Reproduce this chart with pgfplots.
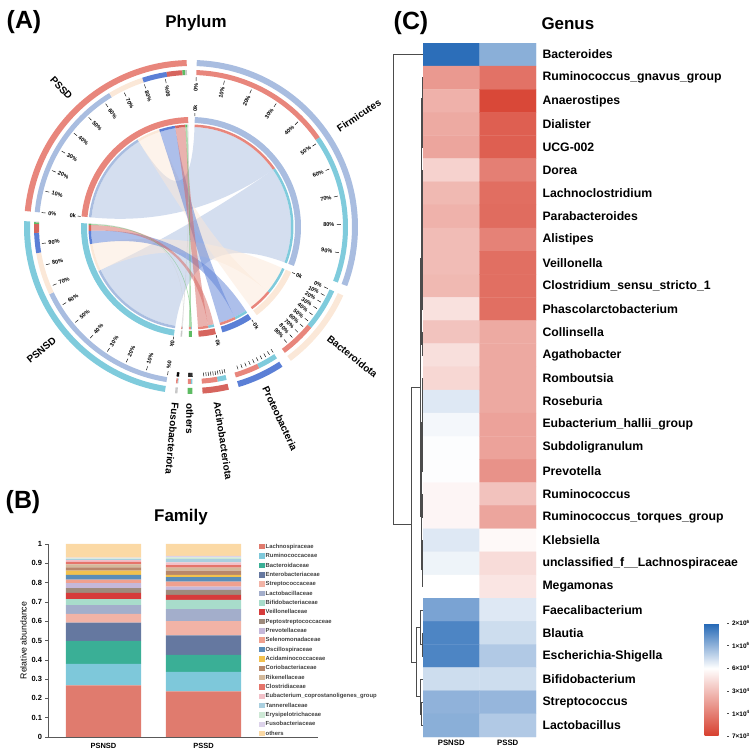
\documentclass[border=0pt]{standalone}
\usepackage{fontspec}
\setmainfont{Liberation Sans}
\usepackage{pgfplots}
\pgfplotsset{compat=1.18}

% chord colours
\definecolor{cPSSD}{RGB}{232,134,124}
\definecolor{cPSNSD}{RGB}{127,203,220}
\definecolor{cFirm}{RGB}{169,189,224}
\definecolor{cBact}{RGB}{251,232,216}
\definecolor{cProt}{RGB}{91,127,214}
\definecolor{cAct}{RGB}{214,101,94}
\definecolor{cOth}{RGB}{93,187,99}
\definecolor{cFuso}{RGB}{200,200,200}
% family colours
\definecolor{f01}{RGB}{224,123,110}
\definecolor{f02}{RGB}{126,200,218}
\definecolor{f03}{RGB}{58,175,150}
\definecolor{f04}{RGB}{101,120,160}
\definecolor{f05}{RGB}{242,179,166}
\definecolor{f06}{RGB}{163,174,203}
\definecolor{f07}{RGB}{168,220,203}
\definecolor{f08}{RGB}{214,59,59}
\definecolor{f09}{RGB}{158,139,125}
\definecolor{f10}{RGB}{197,184,218}
\definecolor{f11}{RGB}{240,160,142}
\definecolor{f12}{RGB}{90,141,184}
\definecolor{f13}{RGB}{242,193,78}
\definecolor{f14}{RGB}{184,135,106}
\definecolor{f15}{RGB}{212,185,154}
\definecolor{f16}{RGB}{229,116,106}
\definecolor{f17}{RGB}{242,192,200}
\definecolor{f18}{RGB}{169,207,223}
\definecolor{f19}{RGB}{205,232,213}
\definecolor{f20}{RGB}{220,210,234}
\definecolor{f21}{RGB}{251,217,165}

\pgfplotsset{colormap={hm}{rgb255(0cm)=(215,63,46) rgb255(3cm)=(255,255,255) rgb255(5cm)=(33,102,181)},
  dendro/.style={black!70, line width=0.45pt, mark=none}}

\newcommand\ttfont{\bfseries\fontsize{25}{28}\selectfont}
\newcommand\hdfont{\bfseries\fontsize{17}{19}\selectfont}
\newcommand\tkfont{\bfseries\fontsize{5.6}{6.5}\selectfont}
\newcommand\nmfont{\bfseries\fontsize{10}{11}\selectfont}

% phylum composition of each group (percent): Firmicutes, Bacteroidota,
% Proteobacteria, Actinobacteriota, others, Fusobacteriota
\def\sF{64}\def\sB{16}\def\sP{11}\def\sA{7}\def\sO{1.3}\def\sU{0.7}  % PSSD
\def\nF{67}\def\nB{19}\def\nP{9}\def\nA{4}\def\nO{0.7}\def\nU{0.3}   % PSNSD
\def\U{0.83}\def\Gp{3.5}  % degrees per unit, gap

\pgfmathsetmacro\FzA{88}
\pgfmathsetmacro\FzB{\FzA-\sF*\U}
\pgfmathsetmacro\FzC{\FzB-\nF*\U}
\pgfmathsetmacro\BzA{\FzC-\Gp}
\pgfmathsetmacro\BzB{\BzA-\nB*\U}
\pgfmathsetmacro\BzC{\BzB-\sB*\U}
\pgfmathsetmacro\PzA{\BzC-\Gp}
\pgfmathsetmacro\PzB{\PzA-\nP*\U}
\pgfmathsetmacro\PzC{\PzB-\sP*\U}
\pgfmathsetmacro\AzA{\PzC-\Gp}
\pgfmathsetmacro\AzB{\AzA-\nA*\U}
\pgfmathsetmacro\AzC{\AzB-\sA*\U}
\pgfmathsetmacro\OzA{\AzC-\Gp}
\pgfmathsetmacro\OzB{\OzA-\nO*\U}
\pgfmathsetmacro\OzC{\OzB-\sO*\U}
\pgfmathsetmacro\UzA{\OzC-\Gp}
\pgfmathsetmacro\UzB{\UzA-\nU*\U}
\pgfmathsetmacro\UzC{\UzB-\sU*\U}
\pgfmathsetmacro\NzA{\UzC-\Gp}
\pgfmathsetmacro\NzB{\NzA-\nF*\U}
\pgfmathsetmacro\NzC{\NzB-\nB*\U}
\pgfmathsetmacro\NzD{\NzC-\nP*\U}
\pgfmathsetmacro\NzE{\NzD-\nA*\U}
\pgfmathsetmacro\NzF{\NzE-\nO*\U}
\pgfmathsetmacro\NzG{\NzF-\nU*\U}
\pgfmathsetmacro\SzA{\NzG-\Gp}
\pgfmathsetmacro\SzB{\SzA-\sF*\U}
\pgfmathsetmacro\SzC{\SzB-\sB*\U}
\pgfmathsetmacro\SzD{\SzC-\sP*\U}
\pgfmathsetmacro\SzE{\SzD-\sA*\U}
\pgfmathsetmacro\SzF{\SzE-\sO*\U}
\pgfmathsetmacro\SzG{\SzF-\sU*\U}

\newcommand{\ringseg}[5]{\fill[#5] (#3:#1) arc[start angle=#3, end angle=#4, radius=#1] -- (#4:#2) arc[start angle=#4, end angle=#3, radius=#2] -- cycle;}
\newcommand{\ribbon}[5]{\fill[#5, fill opacity=0.5] (#1:100bp) arc[start angle=#1, end angle=#2, radius=100bp] .. controls (#2:33bp) and (#3:33bp) .. (#3:100bp) arc[start angle=#3, end angle=#4, radius=100bp] .. controls (#4:33bp) and (#1:33bp) .. (#1:100bp) -- cycle;}
\newcommand{\labin}[4]{\pgfmathsetmacro\ca{cos(#1)}%
  \ifdim\ca pt<-0.2pt \node[font=#4, rotate=#1+180, anchor=west, inner sep=0.4pt] at (#1:#2bp) {#3};%
  \else \node[font=#4, rotate=#1, anchor=east, inner sep=0.4pt] at (#1:#2bp) {#3};\fi}
\newcommand{\labout}[4]{\pgfmathsetmacro\ca{cos(#1)}%
  \ifdim\ca pt<-0.2pt \node[font=#4, rotate=#1+180, anchor=east, inner sep=0.4pt] at (#1:#2bp) {#3};%
  \else \node[font=#4, rotate=#1, anchor=west, inner sep=0.4pt] at (#1:#2bp) {#3};\fi}
\newcommand{\pticks}[3]{\foreach \k in {0,...,9}{%
    \pgfmathsetmacro\ta{#1+(#2-#1)*\k/10}%
    \pgfmathtruncatemacro\pc{10*\k}%
    \draw[line width=0.45pt] (\ta:146bp) -- (\ta:150bp);%
    \ifnum#3=1 \labin{\ta}{144}{\pc\%}{\tkfont}\fi}}
\newcommand{\zk}[1]{\draw[line width=0.45pt] (#1:111bp) -- (#1:114bp); \labout{#1}{115}{0k}{\tkfont}}
\newcommand{\sname}[3]{\pgfmathsetmacro\mid{(#1+#2)/2}\labout{\mid}{176}{#3}{\nmfont}}
\newcommand{\compo}[2]{%
  \ringseg{#1}{#2}{\SzA}{\SzB}{cFirm}\ringseg{#1}{#2}{\SzB}{\SzC}{cBact}\ringseg{#1}{#2}{\SzC}{\SzD}{cProt}%
  \ringseg{#1}{#2}{\SzD}{\SzE}{cAct}\ringseg{#1}{#2}{\SzE}{\SzF}{cOth}\ringseg{#1}{#2}{\SzF}{\SzG}{cFuso}%
  \ringseg{#1}{#2}{\NzA}{\NzB}{cFirm}\ringseg{#1}{#2}{\NzB}{\NzC}{cBact}\ringseg{#1}{#2}{\NzC}{\NzD}{cProt}%
  \ringseg{#1}{#2}{\NzD}{\NzE}{cAct}\ringseg{#1}{#2}{\NzE}{\NzF}{cOth}\ringseg{#1}{#2}{\NzF}{\NzG}{cFuso}%
  \ringseg{#1}{#2}{\FzA}{\FzB}{cPSSD}\ringseg{#1}{#2}{\FzB}{\FzC}{cPSNSD}%
  \ringseg{#1}{#2}{\BzA}{\BzB}{cPSNSD}\ringseg{#1}{#2}{\BzB}{\BzC}{cPSSD}%
  \ringseg{#1}{#2}{\PzA}{\PzB}{cPSNSD}\ringseg{#1}{#2}{\PzB}{\PzC}{cPSSD}%
  \ringseg{#1}{#2}{\AzA}{\AzB}{cPSNSD}\ringseg{#1}{#2}{\AzB}{\AzC}{cPSSD}%
  \ringseg{#1}{#2}{\OzA}{\OzB}{cPSNSD}\ringseg{#1}{#2}{\OzB}{\OzC}{cPSSD}%
  \ringseg{#1}{#2}{\UzA}{\UzB}{cPSNSD}\ringseg{#1}{#2}{\UzB}{\UzC}{cPSSD}}
\newcommand{\own}[2]{%
  \ringseg{#1}{#2}{\SzA}{\SzG}{cPSSD}\ringseg{#1}{#2}{\NzA}{\NzG}{cPSNSD}%
  \ringseg{#1}{#2}{\FzA}{\FzC}{cFirm}\ringseg{#1}{#2}{\BzA}{\BzC}{cBact}%
  \ringseg{#1}{#2}{\PzA}{\PzC}{cProt}\ringseg{#1}{#2}{\AzA}{\AzC}{cAct}%
  \ringseg{#1}{#2}{\OzA}{\OzC}{cOth}\ringseg{#1}{#2}{\UzA}{\UzC}{cFuso}}

\begin{document}
\begin{tikzpicture}
\path[use as bounding box] (0bp,0bp) rectangle (755bp,753bp);

\node[font=\ttfont] at (24bp,731bp) {(A)};
\node[font=\hdfont] at (196bp,730bp) {Phylum};
\node[font=\ttfont] at (23bp,251bp) {(B)};
\node[font=\hdfont] at (181bp,236bp) {Family};
\node[font=\ttfont] at (411bp,730bp) {(C)};
\node[font=\hdfont, anchor=west] at (538bp,729bp) {Genus};

% ---------------- (A) chord diagram
\begin{axis}[at={(191bp,526bp)}, anchor=center, width=400bp, height=400bp,
  scale only axis, hide axis, xmin=-200, xmax=200, ymin=-200, ymax=200, clip=false]
\pgfplotsextra{%
\begin{scope}[shift={(axis cs:0,0)}]
  \ribbon{\SzA}{\SzB}{\FzA}{\FzB}{cFirm}
  \ribbon{\NzA}{\NzB}{\FzB}{\FzC}{cFirm}
  \ribbon{\SzB}{\SzC}{\BzB}{\BzC}{cBact}
  \ribbon{\NzB}{\NzC}{\BzA}{\BzB}{cBact}
  \ribbon{\SzC}{\SzD}{\PzB}{\PzC}{cProt}
  \ribbon{\NzC}{\NzD}{\PzA}{\PzB}{cProt}
  \ribbon{\SzD}{\SzE}{\AzB}{\AzC}{cAct}
  \ribbon{\NzD}{\NzE}{\AzA}{\AzB}{cAct}
  \ribbon{\SzE}{\SzF}{\OzB}{\OzC}{cOth}
  \ribbon{\NzE}{\NzF}{\OzA}{\OzB}{cOth}
  \ribbon{\SzF}{\SzG}{\UzB}{\UzC}{cFuso}
  \ribbon{\NzF}{\NzG}{\UzA}{\UzB}{cFuso}
  \own{161bp}{167bp}
  \compo{152bp}{157bp}
  \own{104bp}{110bp}
  \compo{100bp}{102.5bp}
  \pticks{\SzA}{\SzG}{1}
  \pticks{\NzA}{\NzG}{1}
  \pticks{\FzA}{\FzC}{1}
  \pticks{\BzA}{\BzC}{1}
  \pticks{\PzA}{\PzC}{0}
  \pticks{\AzA}{\AzC}{0}
  \pticks{\OzA}{\OzC}{0}
  \pticks{\UzA}{\UzC}{0}
  \zk{\SzA}\zk{\NzA}\zk{\FzA}\zk{\BzA}\zk{\PzA}\zk{\AzA}
  \sname{\SzA}{\SzG}{PSSD}
  \sname{\NzA}{\NzG}{PSNSD}
  \sname{\FzA}{\FzC}{Firmicutes}
  \sname{\BzA}{\BzC}{Bacteroidota}
  \sname{\PzA}{\PzC}{Proteobacteria}
  \sname{\AzA}{\AzC}{Actinobacteriota}
  \sname{\OzA}{\OzC}{others}
  \sname{\UzA}{\UzC}{Fusobacteriota}
\end{scope}}
\end{axis}

% ---------------- (B) family stacked bars
\begin{axis}[at={(48bp,16bp)}, anchor=south west, width=270bp, height=193bp, scale only axis,
  ybar stacked, bar width=75bp, xmin=-0.555, xmax=2.145, ymin=0, ymax=1, enlargelimits=false,
  axis x line*=bottom, axis y line*=left, axis line style={black!65, line width=0.6pt},
  xtick={0,1}, xticklabels={PSNSD,PSSD}, xtick style={draw=none},
  ytick={0,0.1,0.2,0.3,0.4,0.5,0.6,0.7,0.8,0.9,1},
  ytick style={black!65, line width=0.6pt}, tick align=outside, major tick length=2.5bp,
  tick label style={font=\bfseries\fontsize{7.5}{8}\selectfont},
  /pgf/number format/assume math mode=true,
  yticklabel style={/pgf/number format/fixed, /pgf/number format/precision=1},
  ylabel={Relative abundance}, ylabel style={font=\fontsize{8.8}{9}\selectfont, yshift=-2bp},
  legend cell align=left,
  legend style={at={(0.781,1.005)}, anchor=north west, draw=none, fill=none,
    font=\bfseries\fontsize{5.9}{6.5}\selectfont, text=black!75, row sep=2.35bp, inner sep=0pt,
    nodes={inner sep=0.6bp, text height=4.5bp, text depth=1.3bp},
    /tikz/every odd column/.append style={column sep=0.5bp}},
  legend image code/.code={\fill[#1] (0bp,-2.75bp) rectangle (5.5bp,2.75bp);},
]
\addplot[fill=f01, draw=none] coordinates {(0,0.267) (1,0.236)};
\addplot[fill=f02, draw=none] coordinates {(0,0.112) (1,0.102)};
\addplot[fill=f03, draw=none] coordinates {(0,0.119) (1,0.088)};
\addplot[fill=f04, draw=none] coordinates {(0,0.095) (1,0.100)};
\addplot[fill=f05, draw=none] coordinates {(0,0.045) (1,0.074)};
\addplot[fill=f06, draw=none] coordinates {(0,0.045) (1,0.062)};
\addplot[fill=f07, draw=none] coordinates {(0,0.031) (1,0.048)};
\addplot[fill=f08, draw=none] coordinates {(0,0.033) (1,0.026)};
\addplot[fill=f09, draw=none] coordinates {(0,0.024) (1,0.026)};
\addplot[fill=f10, draw=none] coordinates {(0,0.026) (1,0.017)};
\addplot[fill=f11, draw=none] coordinates {(0,0.019) (1,0.026)};
\addplot[fill=f12, draw=none] coordinates {(0,0.024) (1,0.023)};
\addplot[fill=f13, draw=none] coordinates {(0,0.022) (1,0.012)};
\addplot[fill=f14, draw=none] coordinates {(0,0.017) (1,0.022)};
\addplot[fill=f15, draw=none] coordinates {(0,0.016) (1,0.016)};
\addplot[fill=f16, draw=none] coordinates {(0,0.012) (1,0.013)};
\addplot[fill=f17, draw=none] coordinates {(0,0.010) (1,0.014)};
\addplot[fill=f18, draw=none] coordinates {(0,0.005) (1,0.016)};
\addplot[fill=f19, draw=none] coordinates {(0,0.004) (1,0.010)};
\addplot[fill=f20, draw=none] coordinates {(0,0.003) (1,0.007)};
\addplot[fill=f21, draw=none] coordinates {(0,0.071) (1,0.062)};
\legend{Lachnospiraceae,Ruminococcaceae,Bacteroidaceae,Enterobacteriaceae,Streptococcaceae,
  Lactobacillaceae,Bifidobacteriaceae,Veillonellaceae,Peptostreptococcaceae,Prevotellaceae,
  Selenomonadaceae,Oscillospiraceae,Acidaminococcaceae,Coriobacteriaceae,Rikenellaceae,
  Clostridiaceae,Eubacterium\_coprostanoligenes\_group,Tannerellaceae,Erysipelotrichaceae,
  Fusobacteriaceae,others}
\end{axis}

% ---------------- (C) dendrogram
\begin{axis}[at={(423bp,16bp)}, anchor=south east, width=31bp, height=694bp, scale only axis,
  xmin=0, xmax=31, x dir=reverse, ymin=-0.5, ymax=29.5, y dir=reverse, hide axis, clip=false]
\addplot[dendro] coordinates {(0,3) (0.5,3) (0.5,4) (0,4)};
\addplot[dendro] coordinates {(0,2) (0.8,2) (0.8,3.5) (0.5,3.5)};
\addplot[dendro] coordinates {(0,1) (1.1,1) (1.1,2.75) (0.8,2.75)};
\addplot[dendro] coordinates {(0,5) (0.6,5) (0.6,6) (0,6)};
\addplot[dendro] coordinates {(0,7) (0.5,7) (0.5,8) (0,8)};
\addplot[dendro] coordinates {(0.6,5.5) (0.9,5.5) (0.9,7.5) (0.5,7.5)};
\addplot[dendro] coordinates {(0,9) (0.5,9) (0.5,10) (0,10)};
\addplot[dendro] coordinates {(0.5,9.5) (0.8,9.5) (0.8,11) (0,11)};
\addplot[dendro] coordinates {(0.9,6.5) (1.2,6.5) (1.2,10.25) (0.8,10.25)};
\addplot[dendro] coordinates {(1.1,1.875) (1.5,1.875) (1.5,8.375) (1.2,8.375)};
\addplot[dendro] coordinates {(0,12) (0.7,12) (0.7,13) (0,13)};
\addplot[dendro] coordinates {(1.5,5.125) (1.8,5.125) (1.8,12.5) (0.7,12.5)};
\addplot[dendro] coordinates {(0,14) (0.7,14) (0.7,15) (0,15)};
\addplot[dendro] coordinates {(0,16) (0.5,16) (0.5,17) (0,17)};
\addplot[dendro] coordinates {(0.5,16.5) (0.8,16.5) (0.8,18) (0,18)};
\addplot[dendro] coordinates {(0.7,14.5) (1.1,14.5) (1.1,17.25) (0.8,17.25)};
\addplot[dendro] coordinates {(0,19) (0.6,19) (0.6,20) (0,20)};
\addplot[dendro] coordinates {(1.1,15.875) (1.4,15.875) (1.4,19.5) (0.6,19.5)};
\addplot[dendro] coordinates {(0,21) (0.6,21) (0.6,22) (0,22)};
\addplot[dendro] coordinates {(0.6,21.5) (0.9,21.5) (0.9,23) (0,23)};
\addplot[dendro] coordinates {(1.4,17.69) (1.7,17.69) (1.7,22.25) (0.9,22.25)};
\addplot[dendro] coordinates {(1.8,8.81) (2.3,8.81) (2.3,19.97) (1.7,19.97)};
\addplot[dendro] coordinates {(0,25) (1.2,25) (1.2,26) (0,26)};
\addplot[dendro] coordinates {(0,24) (2.5,24) (2.5,25.5) (1.2,25.5)};
\addplot[dendro] coordinates {(0,28) (1.5,28) (1.5,29) (0,29)};
\addplot[dendro] coordinates {(0,27) (3,27) (3,28.5) (1.5,28.5)};
\addplot[dendro] coordinates {(2.5,24.75) (7,24.75) (7,27.75) (3,27.75)};
\addplot[dendro] coordinates {(2.3,14.39) (12,14.39) (12,26.25) (7,26.25)};
\addplot[dendro] coordinates {(0,0) (30,0) (30,20.32) (12,20.32)};
\end{axis}

% ---------------- (C) heatmap
\begin{axis}[at={(423bp,16bp)}, anchor=south west, width=113bp, height=694bp, scale only axis,
  xmin=-0.5, xmax=1.5, ymin=-0.5, ymax=29.5, y dir=reverse, enlargelimits=false,
  axis line style={draw=none}, tick style={draw=none},
  xtick={0,1}, xticklabels={PSNSD,PSSD},
  xticklabel style={font=\bfseries\fontsize{7.8}{8.5}\selectfont},
  ytick={0,...,29}, yticklabel pos=right,
  yticklabels={Bacteroides,Ruminococcus\_gnavus\_group,Anaerostipes,Dialister,UCG-002,Dorea,
    Lachnoclostridium,Parabacteroides,Alistipes,Veillonella,Clostridium\_sensu\_stricto\_1,
    Phascolarctobacterium,Collinsella,Agathobacter,Romboutsia,Roseburia,Eubacterium\_hallii\_group,
    Subdoligranulum,Prevotella,Ruminococcus,Ruminococcus\_torques\_group,Klebsiella,
    unclassified\_f\_\_Lachnospiraceae,Megamonas,Faecalibacterium,Blautia,Escherichia-Shigella,
    Bifidobacterium,Streptococcus,Lactobacillus},
  yticklabel style={font=\bfseries\fontsize{12.3}{13}\selectfont, anchor=west, xshift=3bp},
  colormap name=hm, point meta min=0, point meta max=5, colorbar,
  colorbar style={at={(parent axis.south east)}, anchor=south west, xshift=160bp, yshift=1bp,
    width=22bp, height=113bp, scale only axis, y dir=normal,
    ytick={0,1,2,3,4,5},
    yticklabels={7×10\textsuperscript{3},1×10\textsuperscript{4},3×10\textsuperscript{4},
      6×10\textsuperscript{4},1×10\textsuperscript{6},2×10\textsuperscript{6}},
    yticklabel pos=right, ytick pos=right,
    yticklabel style={font=\bfseries\fontsize{6.5}{7}\selectfont, anchor=west, xshift=0bp},
    axis line style={draw=none}, tick style={draw=black!70, line width=0.4pt},
    tick align=outside, major tick length=2bp},
]
\addplot[matrix plot*, mesh/cols=2, point meta=explicit] table[x=x, y=y, meta=c] {
x y c
0 0 4.9
1 0 4.05
0 1 1.4
1 1 0.8
0 2 1.78
1 2 0.14
0 3 1.67
1 3 0.5
0 4 1.6
1 4 0.5
0 5 2.3
1 5 1.0
0 6 1.9
1 6 0.73
0 7 1.8
1 7 0.7
0 8 1.95
1 8 1.05
0 9 1.95
1 9 0.75
0 10 1.9
1 10 0.75
0 11 2.53
1 11 0.75
0 12 2.06
1 12 1.67
0 13 2.5
1 13 1.65
0 14 2.37
1 14 1.65
0 15 3.3
1 15 1.65
0 16 3.1
1 16 1.55
0 17 3.03
1 17 1.55
0 18 3.02
1 18 1.3
0 19 2.85
1 19 2.05
0 20 2.85
1 20 1.6
0 21 3.3
1 21 2.9
0 22 3.15
1 22 2.45
0 23 3.0
1 23 2.6
0 24 4.2
1 24 3.3
0 25 4.6
1 25 3.45
0 26 4.6
1 26 3.7
0 27 3.45
1 27 3.45
0 28 4.0
1 28 3.95
0 29 4.05
1 29 3.7
};
\end{axis}
\end{tikzpicture}
\end{document}
